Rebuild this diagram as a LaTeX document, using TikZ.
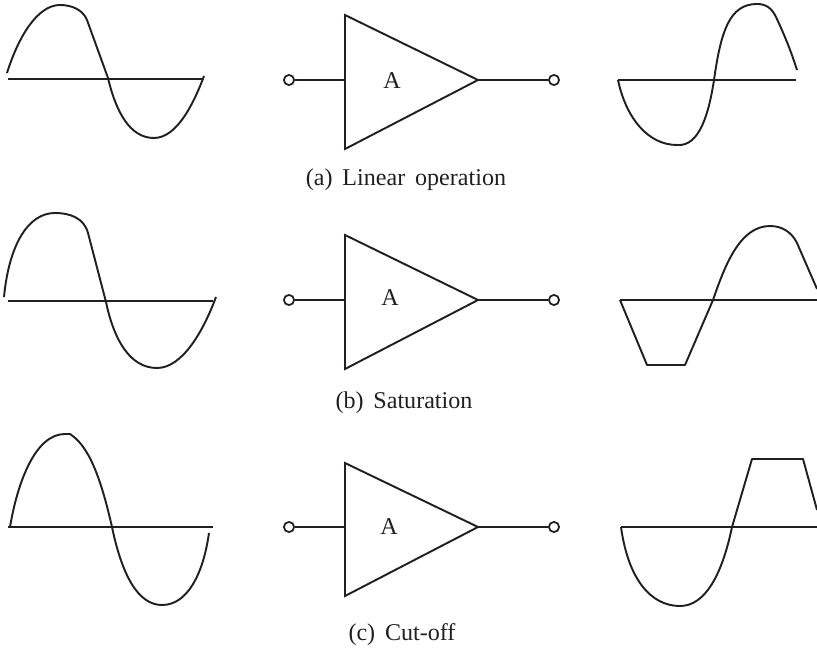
\documentclass[tikz,border=0pt]{standalone}
\usepackage{fontspec}
\setmainfont{Liberation Serif}
\definecolor{ink}{HTML}{231F20}
\newcommand{\capfont}{\fontsize{13.7}{16}\selectfont\setlength{\spaceskip}{5.6pt}\relax}
\tikzset{
  amp/.style    = {draw=ink, line width=1.1pt, line join=miter},
  term/.style   = {draw=ink, line width=1pt, circle, minimum size=5.8pt, inner sep=0pt,
                   fill=white},
  lead/.style   = {draw=ink, line width=1.1pt},
  axis/.style   = {draw=ink, line width=1.1pt},
  wave/.style   = {draw=ink, line width=1.1pt, line join=round},
  gain/.style   = {font=\fontsize{13.7}{16}\selectfont, text=ink, anchor=base, inner sep=0pt},
  caption/.style= {text=ink, anchor=base, inner sep=0pt},
}
\begin{document}
\begin{tikzpicture}[x=0.02cm, y=-0.02cm]
  \useasboundingbox (0,0) rectangle (817,648);

  \foreach \r/\y/\top/\bot/\gx/\gy/\cx/\cy/\t in {a/80/15/149/392/89/406/186/(a) Linear operation,
      b/300/235/369/390/305/404/408/(b) Saturation,c/527/463/596/389/534/402/640/(c) Cut-off}{
    \coordinate (base\r) at (345,\y);
    \coordinate (tip\r) at (478,\y);
    \draw[amp] (345,\top) -- (tip\r) -- (345,\bot) -- cycle;
    \node[term] (in\r) at (289,\y) {};
    \node[term] (out\r) at (554,\y) {};
    \draw[lead] (in\r) -- (base\r);
    \draw[lead] (tip\r) -- (out\r);
    \node[gain] (gain\r) at (\gx,\gy) {A};
    \node[caption] (cap\r) at (\cx,\cy) {\capfont \t};
  }

  \draw[axis] (8,79) -- (203,79);
  \draw[wave] (7,73) .. controls (18,38) and (37,5) .. (60,5) .. controls (72,5) and (83,10) .. (87,20)
      -- (108,78) .. controls (116,112) and (130,138) .. (154,138) .. controls (177,138) and (194,103) .. (204,76);
  \draw[axis] (618,80) -- (796,80);
  \draw[wave] (618,80) .. controls (626,118) and (648,145) .. (677,145) .. controls (700,147) and (709,112) .. (714,80)
      .. controls (721,30) and (730,4) .. (757,4) .. controls (767,4) and (772,9) .. (776,17)
      .. controls (783,32) and (790,48) .. (797,70);

  \draw[axis] (8,301) -- (213,301);
  \draw[wave] (4,297) .. controls (9,245) and (28,213) .. (55,213) .. controls (70,213) and (84,218) .. (88,233)
      -- (106,302) .. controls (114,340) and (130,368) .. (157,368) .. controls (182,368) and (203,332) .. (216,297);
  \draw[axis] (620,300) -- (817,300);
  \draw[wave] (620,300) -- (647,365) -- (685,365) -- (713,300) .. controls (725,265) and (740,226) .. (770,226)
      .. controls (783,226) and (792,233) .. (797,243) -- (817,289);

  \draw[axis] (8,527) -- (213,527);
  \draw[wave] (10,527) .. controls (18,480) and (36,434) .. (65,434) -- (70,434) .. controls (85,444) and (98,465) .. (112,527)
      .. controls (122,575) and (138,605) .. (162,605) .. controls (187,605) and (203,575) .. (209,533);
  \draw[axis] (621,527) -- (817,527);
  \draw[wave] (621,527) .. controls (628,578) and (650,606) .. (680,606) .. controls (705,606) and (722,575) .. (732,527)
      -- (752,459) -- (803,459) -- (817,510);
\end{tikzpicture}
\end{document}
